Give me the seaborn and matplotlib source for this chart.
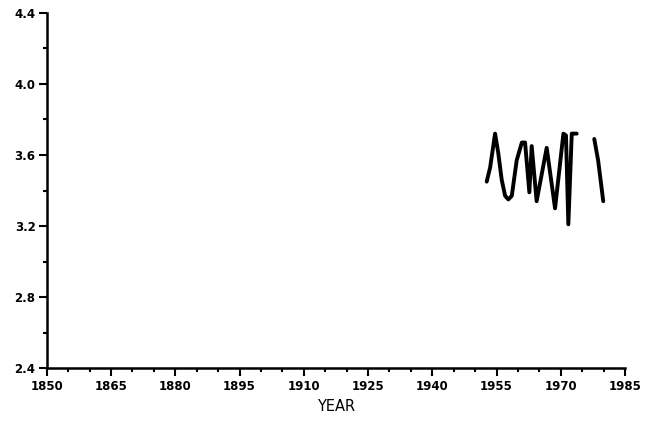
import numpy as np
import pandas as pd
import matplotlib
matplotlib.use("Agg")
import matplotlib.pyplot as plt
from matplotlib.ticker import MultipleLocator, FormatStrFormatter
import seaborn as sns

# Data (two segments separated by a gap)
years_a = [1952.7, 1953.5, 1954.65, 1955.4, 1956.2, 1957.0, 1957.75, 1958.55,
           1959.7, 1960.9, 1961.65, 1962.65, 1963.2, 1964.35, 1966.7, 1968.65,
           1970.6, 1971.2, 1971.75, 1972.55, 1973.7]
values_a = [3.45, 3.53, 3.72, 3.61, 3.46, 3.37, 3.35, 3.37,
            3.57, 3.67, 3.67, 3.39, 3.65, 3.34, 3.64, 3.30,
            3.72, 3.71, 3.21, 3.72, 3.72]
years_b = [1977.8, 1978.7, 1979.9]
values_b = [3.69, 3.57, 3.34]

x_ticks = [1850, 1865, 1880, 1895, 1910, 1925, 1940, 1955, 1970, 1985]
y_ticks = [2.4, 2.8, 3.2, 3.6, 4.0, 4.4]

df = pd.DataFrame({
    "year": years_a + years_b,
    "value": values_a + values_b,
    "segment": ["a"] * len(years_a) + ["b"] * len(years_b),
})

sns.set_style("ticks")
plt.rcParams["font.family"] = ["DejaVu Sans"]
plt.rcParams["text.color"] = "black"
plt.rcParams["axes.labelcolor"] = "black"
plt.rcParams["xtick.color"] = "black"
plt.rcParams["ytick.color"] = "black"

fig, ax = plt.subplots(figsize=(6.58, 4.22), dpi=100)
fig.subplots_adjust(left=0.071, right=0.950, top=0.970, bottom=0.127)

sns.lineplot(data=df, x="year", y="value", units="segment", estimator=None,
             color="black", linewidth=2.8, ax=ax, legend=False,
             solid_joinstyle="round", solid_capstyle="round")

ax.set_xlim(x_ticks[0], x_ticks[-1])
ax.set_ylim(y_ticks[0], y_ticks[-1])
ax.set_xticks(x_ticks)
ax.set_yticks(y_ticks)
ax.xaxis.set_minor_locator(MultipleLocator(5))
ax.yaxis.set_minor_locator(MultipleLocator(0.2))
ax.yaxis.set_major_formatter(FormatStrFormatter("%.1f"))

for lab in ax.get_xticklabels() + ax.get_yticklabels():
    lab.set_fontweight("bold")
    lab.set_fontsize(8.5)
    lab.set_color("black")

ax.tick_params(which="major", length=6, width=1.5, color="black", pad=2)
ax.tick_params(which="minor", length=3, width=1.5, color="black")

sns.despine(ax=ax)
for s in ["left", "bottom"]:
    ax.spines[s].set_linewidth(1.8)
    ax.spines[s].set_color("black")

ax.set_xlabel("YEAR", fontsize=10.5, labelpad=5, color="black")
ax.set_ylabel("")

fig.savefig("out.png", dpi=100)
